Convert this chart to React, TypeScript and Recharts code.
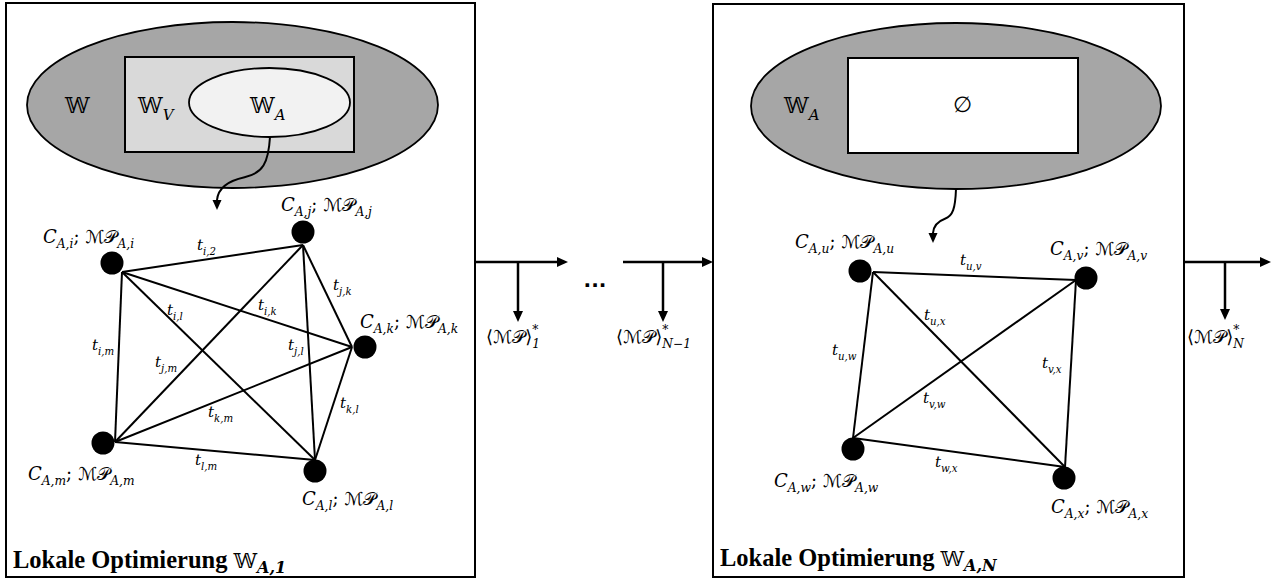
import React from 'react';
import { ScatterChart, Scatter, XAxis, YAxis, ReferenceArea, ReferenceLine } from 'recharts';

const W = 1271;
const H = 580;

// outer frames of the two optimisation steps (diagram units = px)
const frames = [
  { x1: 6, x2: 475, y1: 3, y2: 577 },
  { x1: 713, x2: 1184, y1: 4, y2: 577 },
];

// set regions: outer ellipse, rectangle, inner ellipse
const setEllipses = [
  { x1: 27, x2: 438, y1: 22, y2: 188, tone: 'dark' },
  { x1: 189, x2: 350, y1: 68, y2: 137, tone: 'light' },
  { x1: 751, x2: 1161, y1: 23, y2: 189, tone: 'dark' },
];
const setRects = [
  { x1: 125, x2: 354, y1: 57, y2: 152, tone: 'mid' },
  { x1: 848, x2: 1078, y1: 58, y2: 153, tone: 'white' },
];
const setLabels = [
  { x: 65, y: 113, tex: '𝕎' },
  { x: 138, y: 113, tex: '𝕎_{V}' },
  { x: 250, y: 113, tex: '𝕎_{A}' },
  { x: 784, y: 113, tex: '𝕎_{A}' },
  { x: 953, y: 112, tex: '∅' },
];

// curved arrows from the set to the graph: start (top right) / end (bottom left)
const curvedArrows = [
  { x1: 217, x2: 270, y1: 137, y2: 210 },
  { x1: 933, x2: 956, y1: 189, y2: 243 },
];

// graph nodes: centre and connection point of the edges
const leftNodes = [
  { id: 'i', x: 112, y: 263, ax: 122, ay: 272 },
  { id: 'j', x: 303, y: 232, ax: 303, ay: 245 },
  { id: 'k', x: 365, y: 347, ax: 352, ay: 347 },
  { id: 'm', x: 103, y: 443, ax: 115, ay: 442 },
  { id: 'l', x: 315, y: 471, ax: 315, ay: 460 },
];
const rightNodes = [
  { id: 'u', x: 860, y: 271, ax: 873, ay: 272 },
  { id: 'v', x: 1086, y: 278, ax: 1076, ay: 280 },
  { id: 'w', x: 853, y: 449, ax: 853, ay: 438 },
  { id: 'x', x: 1064, y: 478, ax: 1065, ay: 467 },
];
const leftEdges = [
  ['i', 'j'], ['i', 'k'], ['i', 'l'], ['i', 'm'], ['j', 'k'],
  ['j', 'l'], ['j', 'm'], ['k', 'l'], ['k', 'm'], ['l', 'm'],
];
const rightEdges = [
  ['u', 'v'], ['u', 'w'], ['u', 'x'], ['v', 'w'], ['v', 'x'], ['w', 'x'],
];

const nodeLabels = [
  { x: 43, y: 243, tex: 'C_{A,i}; ℳ𝒫_{A,i}' },
  { x: 281, y: 211, tex: 'C_{A,j}; ℳ𝒫_{A,j}' },
  { x: 360, y: 328, tex: 'C_{A,k}; ℳ𝒫_{A,k}' },
  { x: 28, y: 480, tex: 'C_{A,m}; ℳ𝒫_{A,m}' },
  { x: 302, y: 505, tex: 'C_{A,l}; ℳ𝒫_{A,l}' },
  { x: 795, y: 248, tex: 'C_{A,u}; ℳ𝒫_{A,u}' },
  { x: 1050, y: 255, tex: 'C_{A,v}; ℳ𝒫_{A,v}' },
  { x: 774, y: 487, tex: 'C_{A,w}; ℳ𝒫_{A,w}' },
  { x: 1051, y: 513, tex: 'C_{A,x}; ℳ𝒫_{A,x}' },
];
const edgeLabels = [
  { x: 197, y: 250, tex: 't_{i,2}' },
  { x: 167, y: 315, tex: 't_{i,l}' },
  { x: 258, y: 310, tex: 't_{i,k}' },
  { x: 333, y: 290, tex: 't_{j,k}' },
  { x: 92, y: 350, tex: 't_{i,m}' },
  { x: 288, y: 350, tex: 't_{j,l}' },
  { x: 155, y: 367, tex: 't_{j,m}' },
  { x: 340, y: 408, tex: 't_{k,l}' },
  { x: 208, y: 417, tex: 't_{k,m}' },
  { x: 195, y: 465, tex: 't_{l,m}' },
  { x: 960, y: 265, tex: 't_{u,v}' },
  { x: 924, y: 320, tex: 't_{u,x}' },
  { x: 832, y: 355, tex: 't_{u,w}' },
  { x: 1042, y: 368, tex: 't_{v,x}' },
  { x: 923, y: 403, tex: 't_{v,w}' },
  { x: 935, y: 467, tex: 't_{w,x}' },
];

// flow between the optimisation steps
const flowArrows = [
  { x1: 476, y1: 262, x2: 568, y2: 262 },
  { x1: 518, y1: 262, x2: 518, y2: 322 },
  { x1: 623, y1: 262, x2: 713, y2: 262 },
  { x1: 663, y1: 262, x2: 663, y2: 322 },
  { x1: 1184, y1: 262, x2: 1271, y2: 262 },
  { x1: 1225, y1: 262, x2: 1225, y2: 320 },
];
const outputLabels = [
  { x: 486, y: 343, tex: '⟨ℳ𝒫⟩^{*}_{1}' },
  { x: 616, y: 343, tex: '⟨ℳ𝒫⟩^{*}_{N−1}' },
  { x: 1187, y: 343, tex: '⟨ℳ𝒫⟩^{*}_{N}' },
];
const ellipsisMark = [{ x: 595, y: 287 }];
const titles = [
  { x: 13, y: 568, text: 'Lokale Optimierung', sub: 'A,1' },
  { x: 720, y: 566, text: 'Lokale Optimierung', sub: 'A,N' },
];

const MATH = "DejaVu Serif, DejaVu Sans, serif";
const TONES: Record<string, string> = { dark: '#a6a6a6', mid: '#d9d9d9', light: '#f2f2f2', white: '#ffffff' };
const UPRIGHT = /([ℳ𝒫𝕎∅⟨⟩;])/u;

// split plain text so symbols stay upright
const plain = (s: string, key: string) =>
  s.split(UPRIGHT).filter(Boolean).map((c, n) =>
    UPRIGHT.test(c) ? (
      <tspan key={`${key}-${n}`} fontStyle="normal">{c}</tspan>
    ) : (
      <tspan key={`${key}-${n}`}>{c}</tspan>
    ),
  );

// tiny tex-ish renderer: base text, _{sub}, ^{sup}
const MathText = ({ x, y, tex, size }: any) => {
  const tokens: string[] = tex.match(/_\{[^}]*\}|\^\{[^}]*\}|[^_^]+/g) || [];
  const small = size * 0.68;
  let level = 0;
  let supWidth = 0;
  const spans = tokens.map((tok, k) => {
    if (tok.startsWith('_{')) {
      const target = size * 0.3;
      const el = (
        <tspan key={k} dx={supWidth ? -supWidth : 0} dy={target - level} fontSize={small}>
          {tok.slice(2, -1)}
        </tspan>
      );
      level = target;
      supWidth = 0;
      return el;
    }
    if (tok.startsWith('^{')) {
      const target = -size * 0.48;
      const s = tok.slice(2, -1);
      const el = (
        <tspan key={k} dy={target - level} fontSize={small}>
          {s}
        </tspan>
      );
      level = target;
      supWidth = s.length * small * 0.5;
      return el;
    }
    const el = (
      <tspan key={k} dy={-level}>
        {plain(tok, String(k))}
      </tspan>
    );
    level = 0;
    supWidth = 0;
    return el;
  });
  return (
    <text x={x} y={y} style={{ fontFamily: MATH, fontSize: size, fontStyle: 'italic' }} fill="#000">
      {spans}
    </text>
  );
};

const labelShape = (size: number) => (p: any) =>
  <MathText x={p.cx} y={p.cy} tex={p.payload.tex} size={size} />;

const ArrowLine = (p: any) => {
  const { x1, y1, x2, y2 } = p;
  const a = Math.atan2(y2 - y1, x2 - x1);
  const len = 11;
  const half = 5;
  const bx = x2 - len * Math.cos(a);
  const by = y2 - len * Math.sin(a);
  const nx = -Math.sin(a) * half;
  const ny = Math.cos(a) * half;
  return (
    <g>
      <line x1={x1} y1={y1} x2={bx} y2={by} stroke="#000" strokeWidth={2.5} />
      <polygon points={`${x2},${y2} ${bx + nx},${by + ny} ${bx - nx},${by - ny}`} fill="#000" />
    </g>
  );
};

const CurvedArrow = (p: any) => {
  const { x, y, width: w, height: h } = p;
  const X = (u: number) => x + u * w;
  const Y = (v: number) => y + v * h;
  const headLen = 10;
  const endY = y + h - headLen;
  const d = `M${X(1)},${Y(0)} C${X(0.97)},${Y(0.36)} ${X(0.86)},${Y(0.5)} ${X(0.52)},${Y(0.55)} C${X(0.2)},${Y(0.6)} ${X(0.02)},${Y(0.7)} ${X(0)},${endY}`;
  return (
    <g>
      <path d={d} fill="none" stroke="#000" strokeWidth={2} />
      <polygon points={`${X(0)},${y + h} ${X(0) - 4.5},${endY} ${X(0) + 4.5},${endY}`} fill="#000" />
    </g>
  );
};

const ellipseShape = (tone: string) => (p: any) => (
  <ellipse
    cx={p.x + p.width / 2}
    cy={p.y + p.height / 2}
    rx={p.width / 2}
    ry={p.height / 2}
    fill={TONES[tone]}
    stroke="#000"
    strokeWidth={1.8}
  />
);

const nodeShape = (p: any) => <circle cx={p.cx} cy={p.cy} r={11.5} fill="#000" />;
const noShape = () => <g />;

const dotsShape = (p: any) => (
  <text x={p.cx} y={p.cy} textAnchor="middle" style={{ fontFamily: 'DejaVu Sans, sans-serif', fontSize: 20, fontWeight: 'bold' }} fill="#000">
    ...
  </text>
);

const edgePoints = (nodes: any[], a: string, b: string) => {
  const pa = nodes.find((n) => n.id === a);
  const pb = nodes.find((n) => n.id === b);
  return [
    { x: pa.ax, y: pa.ay },
    { x: pb.ax, y: pb.ay },
  ];
};

const titleShape = (p: any) => (
  <text x={p.cx} y={p.cy} fill="#000" style={{ fontFamily: 'Liberation Serif, serif', fontSize: 24.5, fontWeight: 'bold' }}>
    <tspan>{p.payload.text} </tspan>
    <tspan style={{ fontFamily: MATH, fontWeight: 'normal', fontSize: 21 }}>𝕎</tspan>
    <tspan style={{ fontFamily: MATH, fontStyle: 'italic', fontWeight: 'bold', fontSize: 16 }} dy={5}>
      {p.payload.sub}
    </tspan>
  </text>
);

export default function App() {
  const allEdges = [
    ...leftEdges.map(([a, b]) => edgePoints(leftNodes, a, b)),
    ...rightEdges.map(([a, b]) => edgePoints(rightNodes, a, b)),
  ];
  return (
    <div style={{ position: 'fixed', left: 0, top: 0, width: W, height: H, background: '#fff' }}>
      <ScatterChart width={W} height={H} margin={{ top: 0, right: 0, bottom: 0, left: 0 }}>
        <XAxis type="number" dataKey="x" domain={[0, W]} hide allowDataOverflow />
        <YAxis type="number" dataKey="y" domain={[0, H]} hide reversed allowDataOverflow />

        {frames.map((f, i) => (
          <ReferenceArea key={`f${i}`} {...f} fill="#fff" fillOpacity={0} stroke="#000" strokeWidth={2} ifOverflow="visible" />
        ))}
        {setEllipses.filter((e) => e.tone === 'dark').map((e, i) => (
          <ReferenceArea key={`eo${i}`} x1={e.x1} x2={e.x2} y1={e.y1} y2={e.y2} shape={ellipseShape(e.tone)} />
        ))}
        {setRects.map((r, i) => (
          <ReferenceArea key={`r${i}`} x1={r.x1} x2={r.x2} y1={r.y1} y2={r.y2} fill={TONES[r.tone]} fillOpacity={1} stroke="#000" strokeWidth={2} />
        ))}
        {setEllipses.filter((e) => e.tone !== 'dark').map((e, i) => (
          <ReferenceArea key={`ei${i}`} x1={e.x1} x2={e.x2} y1={e.y1} y2={e.y2} shape={ellipseShape(e.tone)} />
        ))}
        {curvedArrows.map((c, i) => (
          <ReferenceArea key={`c${i}`} {...c} shape={CurvedArrow} />
        ))}
        {flowArrows.map((f, i) => (
          <ReferenceLine key={`a${i}`} segment={[{ x: f.x1, y: f.y1 }, { x: f.x2, y: f.y2 }]} shape={ArrowLine} ifOverflow="visible" />
        ))}

        {allEdges.map((pts, i) => (
          <Scatter key={`e${i}`} data={pts} line={{ stroke: '#000', strokeWidth: 2 }} shape={noShape} isAnimationActive={false} />
        ))}
        <Scatter data={[...leftNodes, ...rightNodes]} shape={nodeShape} isAnimationActive={false} />

        <Scatter data={setLabels} shape={labelShape(22)} isAnimationActive={false} />
        <Scatter data={nodeLabels} shape={labelShape(18)} isAnimationActive={false} />
        <Scatter data={edgeLabels} shape={labelShape(15)} isAnimationActive={false} />
        <Scatter data={outputLabels} shape={labelShape(18)} isAnimationActive={false} />
        <Scatter data={ellipsisMark} shape={dotsShape} isAnimationActive={false} />
        <Scatter data={titles} shape={titleShape} isAnimationActive={false} />
      </ScatterChart>
    </div>
  );
}
